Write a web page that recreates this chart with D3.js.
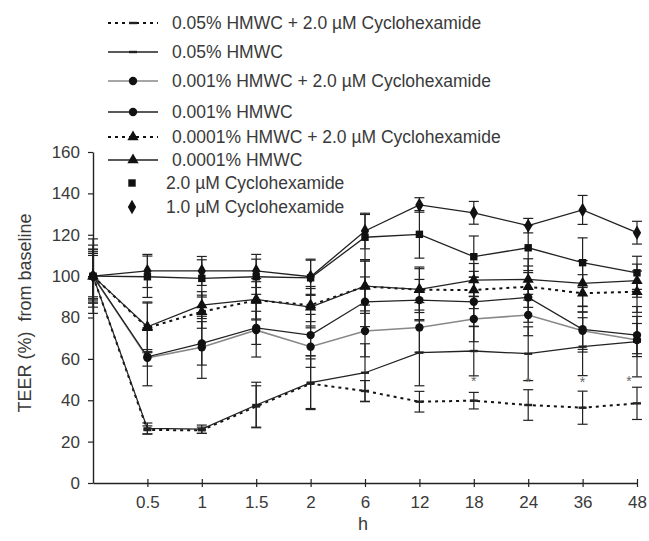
<!DOCTYPE html>
<html>
<head>
<meta charset="utf-8">
<script src="https://cdn.jsdelivr.net/npm/d3@7"></script>
<style>
  body { margin: 0; background: #fff; }
  svg text { font-family: "Liberation Sans", Arial, sans-serif; fill: #3a3a3a; }
</style>
</head>
<body>
<svg id="chart" width="649" height="541"></svg>
<script>
// time points (h)
const hours = ["0", "0.5", "1", "1.5", "2", "6", "12", "18", "24", "36", "48"];
const yTicks = [0, 20, 40, 60, 80, 100, 120, 140, 160];

const names = [
  "0.05% HMWC + 2.0 µM Cyclohexamide",
  "0.05% HMWC",
  "0.001% HMWC + 2.0 µM Cyclohexamide",
  "0.001% HMWC",
  "0.0001% HMWC + 2.0 µM Cyclohexamide",
  "0.0001% HMWC",
  "2.0 µM Cyclohexamide",
  "1.0 µM Cyclohexamide"
];

// TEER (% from baseline)
const hmwc05Chx   = [100, 25.6, 25.5, 37, 48, 44.5, 39.3, 39.8, 37.7, 36.4, 38.5];
const hmwc05      = [100, 26.4, 26, 37.7, 48.5, 53.3, 63, 63.8, 62.5, 65.9, 68.3];
const hmwc001Chx  = [100, 60.5, 65.6, 73.9, 65.9, 73.5, 75.2, 79.3, 81.2, 73.6, 69.1];
const hmwc001     = [100, 61, 67.5, 75, 71.5, 87.6, 88.4, 87.6, 89.7, 74.3, 71.5];
const hmwc0001Chx = [100, 75, 82.8, 88.3, 86, 95, 93.4, 93.3, 94.9, 91.7, 92.5];
const hmwc0001    = [100, 75.5, 86, 88.8, 85, 95.2, 93.6, 98.1, 98.4, 96.5, 97.8];
const chx20       = [100, 99.7, 98.9, 99.7, 99.2, 118.8, 120.2, 109.4, 113.7, 106.5, 101.6];
const chx10       = [100, 102.5, 102.5, 102.5, 99.7, 121.8, 134.4, 130.6, 124.4, 132, 121];

// error bar half-widths
const err05Chx   = [11, 2, 1.5, 10, 12, 5, 5, 4, 7.4, 8, 7.8];
const err05      = [13, 2.6, 2, 11, 13, 14, 16, 12, 13, 14, 17];
const err001Chx  = [12, 4, 15, 13, 10, 12.5, 12, 11, 10, 9, 8];
const err001     = [10, 14, 10.5, 8, 10, 12, 10, 12, 12, 11, 9];
const err0001Chx = [15, 12, 8, 9, 8, 13, 11, 9, 10, 9, 10];
const err0001    = [11, 12, 6.5, 10, 10, 12, 10, 8, 10, 11, 8];
const errChx20   = [13, 10, 9, 8.5, 8.5, 11, 11.5, 10, 11, 12, 8];
const errChx10   = [18, 8, 7, 8, 8.5, 8.6, 3.5, 5.5, 3.5, 7, 5.5];

// significance stars
const sigHours = ["18", "24", "36", "48"];
const sigLevel = [50.5, 50, 50, 50.5];

const values = [hmwc05Chx, hmwc05, hmwc001Chx, hmwc001, hmwc0001Chx, hmwc0001, chx20, chx10];
const errors = [err05Chx, err05, err001Chx, err001, err0001Chx, err0001, errChx20, errChx10];

// drawing style per series
const styles = [
  { stroke: "#111", width: 2,   dash: "3,4", marker: "dash" },
  { stroke: "#222", width: 1.3, dash: null,  marker: "dash" },
  { stroke: "#888", width: 1.6, dash: null,  marker: "circle" },
  { stroke: "#222", width: 1.3, dash: null,  marker: "circle" },
  { stroke: "#111", width: 2,   dash: "3,4", marker: "triangle" },
  { stroke: "#222", width: 1.3, dash: null,  marker: "triangle" },
  { stroke: "#222", width: 1.3, dash: null,  marker: "square", legendLine: false },
  { stroke: "#222", width: 1.3, dash: null,  marker: "diamond", legendLine: false }
];

const series = names.map((n, i) => ({
  name: n,
  style: styles[i],
  points: hours.map((h, j) => ({ h: h, v: values[i][j], e: errors[i][j] }))
}));

const svg = d3.select("#chart");

const x = d3.scalePoint().domain(hours).range([93, 637]);
const y = d3.scaleLinear().domain([0, 160]).range([483, 152]);

const symbols = {
  circle: d3.symbol().type(d3.symbolCircle).size(55),
  triangle: d3.symbol().type(d3.symbolTriangle).size(55),
  square: d3.symbol().type(d3.symbolSquare).size(55),
  diamond: d3.symbol().type(d3.symbolDiamond).size(60)
};

function drawMarker(g, type, cx, cy) {
  if (type === "dash") {
    g.append("rect").attr("x", cx - 4).attr("y", cy - 1.2)
      .attr("width", 8).attr("height", 2.4).attr("fill", "#222");
  } else {
    g.append("path").attr("d", symbols[type]())
      .attr("transform", "translate(" + cx + "," + cy + ")")
      .attr("fill", "#111");
  }
}

// axes
const xAxis = svg.append("g")
  .attr("transform", "translate(0,483)")
  .call(d3.axisBottom(x).tickSizeInner(4).tickSizeOuter(0).tickPadding(9)
    .tickFormat(d => d === "0" ? "" : d));
xAxis.selectAll(".tick line").attr("y1", -4);
xAxis.selectAll(".tick").filter(d => d === "0").remove();

const yAxis = svg.append("g")
  .attr("transform", "translate(93,0)")
  .call(d3.axisLeft(y).tickValues(yTicks).tickSize(5).tickSizeOuter(0).tickPadding(8));

[xAxis, yAxis].forEach(a => {
  a.select(".domain").attr("stroke", "#222").attr("stroke-width", 1.4);
  a.selectAll(".tick line").attr("stroke", "#222").attr("stroke-width", 1.2);
  a.selectAll(".tick text").attr("font-size", 17).attr("fill", "#3a3a3a")
    .style("font-family", "'Liberation Sans', Arial, sans-serif");
});

// error bars
const eb = svg.append("g");
series.forEach(s => {
  s.points.forEach(p => {
    const cx = x(p.h), y1 = y(p.v + p.e), y2 = y(p.v - p.e);
    eb.append("line").attr("x1", cx).attr("x2", cx).attr("y1", y1).attr("y2", y2)
      .attr("stroke", "#222").attr("stroke-width", 1.2);
    [y1, y2].forEach(yy => eb.append("line")
      .attr("x1", cx - 5).attr("x2", cx + 5).attr("y1", yy).attr("y2", yy)
      .attr("stroke", "#222").attr("stroke-width", 1.2));
  });
});

// lines
const line = d3.line().x(d => x(d.h)).y(d => y(d.v));
svg.append("g").selectAll("path").data(series).join("path")
  .attr("d", d => line(d.points))
  .attr("fill", "none")
  .attr("stroke", d => d.style.stroke)
  .attr("stroke-width", d => d.style.width)
  .attr("stroke-dasharray", d => d.style.dash);

// markers
const mk = svg.append("g");
series.forEach(s => {
  s.points.forEach(p => drawMarker(mk, s.style.marker, x(p.h), y(p.v)));
});

// significance stars
svg.append("g").selectAll("text").data(sigHours).join("text")
  .attr("x", (d, i) => x(d) + (d === "48" ? -8 : 0))
  .attr("y", (d, i) => y(sigLevel[i]) + 7)
  .attr("text-anchor", "middle")
  .attr("font-size", 14)
  .style("fill", "#666")
  .text("*");

// axis titles
svg.append("text")
  .attr("x", 363).attr("y", 530)
  .attr("text-anchor", "middle")
  .attr("font-size", 18)
  .text("h");

svg.append("text")
  .attr("transform", "translate(31,313) rotate(-90)")
  .attr("text-anchor", "middle")
  .attr("font-size", 18)
  .style("white-space", "pre")
  .text("TEER (%)  from baseline");

// legend
const rowY = [23, 52, 81, 112, 137, 160, 183, 207];
const lg = svg.append("g");
series.forEach((s, i) => {
  const ry = rowY[i];
  const hasLine = s.style.legendLine !== false;
  if (hasLine) {
    lg.append("line").attr("x1", 108).attr("x2", 158).attr("y1", ry).attr("y2", ry)
      .attr("stroke", s.style.stroke).attr("stroke-width", s.style.width)
      .attr("stroke-dasharray", s.style.dash);
  }
  drawMarker(lg, s.style.marker, hasLine ? 133 : 132, ry);
  lg.append("text")
    .attr("x", hasLine ? 172 : 166).attr("y", ry)
    .attr("dy", "0.35em")
    .attr("font-size", 17.5)
    .text(s.name);
});
</script>
</body>
</html>
